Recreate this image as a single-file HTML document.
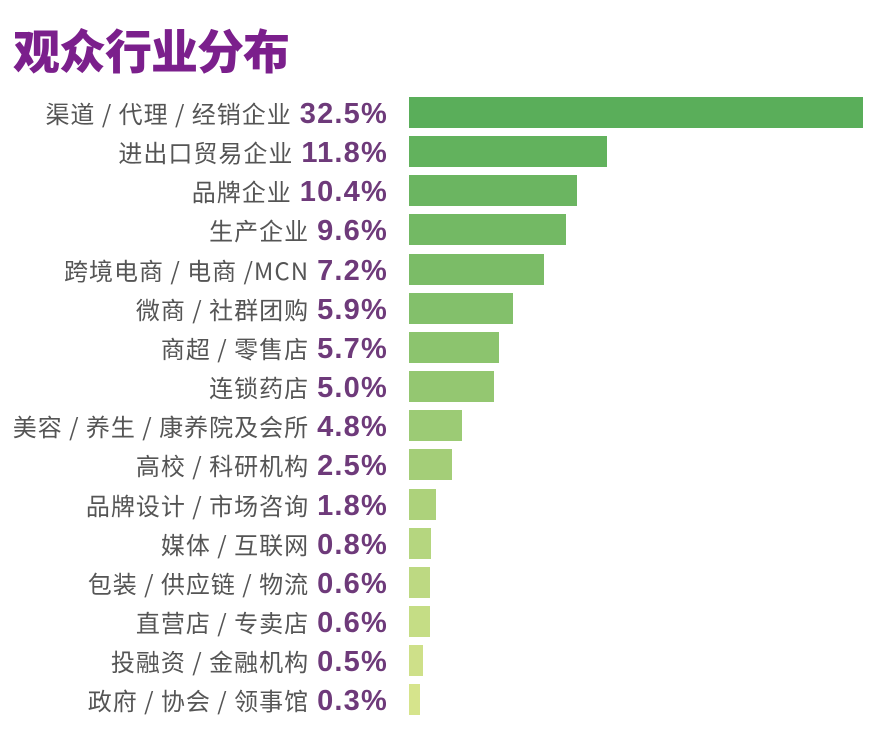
<!DOCTYPE html><html><head><meta charset="utf-8"><style>
body{margin:0;width:882px;height:747px;background:#fff;position:relative;overflow:hidden;font-family:"Liberation Sans","Noto Sans CJK SC",sans-serif}
.t{position:absolute;left:13px;top:14px;font-size:47px;font-weight:900;color:#7b1f8c;letter-spacing:-1px;font-family:"Noto Sans CJK SC",sans-serif}
.r{position:absolute;left:0;height:31px;width:882px}
.l{position:absolute;right:494px;top:0;line-height:31px;white-space:nowrap;font-size:24px;letter-spacing:1px;color:#555;font-family:"Noto Sans CJK SC",sans-serif}
.l b{font-family:"Liberation Sans",sans-serif;font-size:29px;letter-spacing:1.2px;color:#6e3a7a;font-weight:bold;margin-left:8px}
.b{position:absolute;left:409px;top:0;height:31px}
</style></head><body>
<div class="t">观众行业分布</div>
<div id="c"></div>
<script>
var d=[["渠道 / 代理 / 经销企业","32.5%",863],["进出口贸易企业","11.8%",607],["品牌企业","10.4%",577],["生产企业","9.6%",566],["跨境电商 / 电商 /MCN","7.2%",544],["微商 / 社群团购","5.9%",513],["商超 / 零售店","5.7%",499],["连锁药店","5.0%",494],["美容 / 养生 / 康养院及会所","4.8%",462],["高校 / 科研机构","2.5%",452],["品牌设计 / 市场咨询","1.8%",436],["媒体 / 互联网","0.8%",431],["包装 / 供应链 / 物流","0.6%",430],["直营店 / 专卖店","0.6%",430],["投融资 / 金融机构","0.5%",423],["政府 / 协会 / 领事馆","0.3%",420]];
var h="";for(var i=0;i<16;i++){var f=i/15;var r=Math.round(90+(214-90)*f),g=Math.round(174+(228-174)*f),bb=Math.round(90+(140-90)*f);
h+='<div class="r" style="top:'+(97+i*39.15)+'px"><div class="l">'+d[i][0]+'<b>'+d[i][1]+'</b></div><div class="b" style="width:'+(d[i][2]-409)+'px;background:rgb('+r+','+g+','+bb+')"></div></div>';}
document.getElementById("c").innerHTML=h;
</script></body></html>
